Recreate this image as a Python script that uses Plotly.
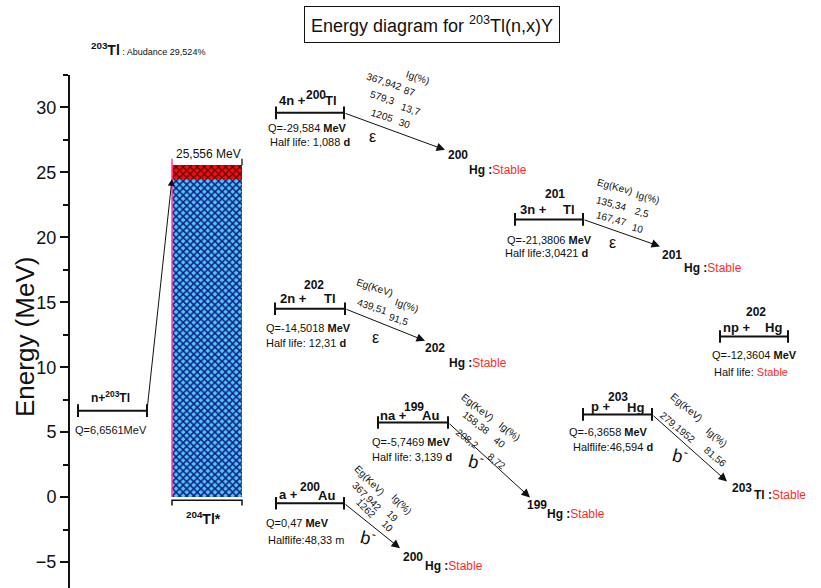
import plotly.graph_objects as go

# ---------------------------------------------------------------- data ----
target_mass = "203"
target_symbol = "Tl"
abundance = "29,524%"
capture_q = 6.6561            # n + 203Tl  (MeV)
compound_max = 25.556         # top of the 204Tl* excitation band (MeV)
compound_band_low = 24.5      # lower edge of the highlighted band (MeV)

ejectiles     = ["4n", "3n", "2n", "np", "na", "p", "a"]
residual_mass = ["200", "201", "202", "202", "199", "203", "200"]
residual_sym  = ["Tl", "Tl", "Tl", "Hg", "Au", "Hg", "Au"]
q_values      = [-29.584, -21.3806, -14.5018, -12.3604, -5.7469, -6.3658, 0.47]
half_lives    = ["Half life: 1,088 <b>d</b>", "Half life:3,0421 <b>d</b>",
                 "Half life: 12,31 <b>d</b>", "Half life: <span style='color:#ff2a2a'>Stable</span>",
                 "Half life: 3,139 <b>d</b>", "Halflife:46,594 <b>d</b>", "Halflife:48,33 m"]
decay_modes   = ["ε", "ε", "ε", "", "b<sup>-</sup>", "b<sup>-</sup>", "b<sup>-</sup>"]
daughter_mass = ["200", "201", "202", "", "199", "203", "200"]
daughter_sym  = ["Hg", "Hg", "Hg", "", "Hg", "Tl", "Hg"]
gamma_head    = ["Eg(KeV)", "Eg(Kev)", "Eg(KeV)", "", "Eg(KeV)", "Eg(KeV)", "Eg(KeV)"]
gamma_energy  = [[367.942, 579.3, 1205], [135.34, 167.47], [439.51], [],
                 [158.38, 208.2], [279.1952], [367.942, 1262]]
gamma_int     = [[87, 13.7, 30], [2.5, 10], [91.5], [], [40, 8.72], [81.56], [19, 10]]

# -------------------------------------------------------------- layout ----
W, H = 821, 588
X_LEFT, PLOT_TOP = 70, 75
Y_MIN, Y_MAX = -7.0, 32.5
PX_PER_MEV = (H - PLOT_TOP) / (Y_MAX - Y_MIN)

NARROW = "Liberation Sans Narrow, Arial Narrow, Liberation Sans, Arial, sans-serif"
REGULAR = "Liberation Sans, Arial, sans-serif"
RED = "#ff2a2a"
INK = "#111111"


def ey(py):
    """screen row -> energy"""
    return Y_MAX - (py - PLOT_TOP) / PX_PER_MEV


def pxp(px):
    return (px - X_LEFT) / (W - X_LEFT)


def pyp(py):
    return (H - py) / (H - PLOT_TOP)


def comma(v):
    return str(v).replace(".", ",")


bar_span = [(276, 344), (515, 583), (275, 345), (720, 788), (378, 448), (583, 652), (276, 344)]
label_pos = [
    [(292, 100), (316, 95), (331, 100)],
    [(533, 209), (555, 194), (569, 209)],
    [(293, 298), (314, 285), (330, 298)],
    [(736, 327), (756, 312), (773, 327)],
    [(393, 415), (414, 407), (430, 415)],
    [(601, 406), (618, 397), (635, 407)],
    [(288, 494), (310, 487), (326, 495)],
]
q_pos = [(307, 128), (549, 240), (308, 328), (754, 355), (411, 442), (608, 432), (297, 523)]
hl_pos = [(310, 142), (546, 253), (306, 343), (751, 372), (412, 457), (613, 447), (306, 540)]
mode_pos = [(372, 136), (612, 242), (375, 337), None, (476, 461), (680, 455), (368, 537)]
arrow_step = [(101, 37), (77, 27), (80, 32), None, (82, 75), (75, 67), (56, 45)]
daughter_pos = [((458, 155), (467, 170)), ((672, 255), (682, 268)), ((435, 348), (447, 363)), None,
                ((537, 505), (545, 514)), ((742, 488), (752, 495)), ((413, 557), (423, 566))]
table_angle = [18, 15, 18, 0, 38, 40, 45]
eg_pos = [[(385, 66), (384, 81), (382, 97), (382, 115)],
          [(615, 186), (611, 203), (611, 218)],
          [(375, 287), (372, 306)],
          [],
          [(478, 407), (476, 422), (467, 438)],
          [(687, 407), (678, 427)],
          [(370, 480), (367, 496), (366, 508)]]
ig_pos = [[(418, 77), (410, 91), (411, 109), (405, 123)],
          [(648, 197), (642, 212), (638, 228)],
          [(407, 305), (399, 319)],
          [],
          [(510, 431), (500, 442), (497, 461)],
          [(717, 437), (715, 456)],
          [(402, 504), (393, 516), (388, 526)]]

fig = go.Figure()
ann = []


def text(px, py, s, size=11, family=NARROW, color=INK, angle=0, xanchor="center"):
    ann.append(dict(x=px, y=ey(py), xref="x", yref="y", text=s, showarrow=False,
                    xanchor=xanchor, yanchor="middle", textangle=angle,
                    font=dict(size=size, family=family, color=color)))


def level(x0, x1, e):
    fig.add_trace(go.Scatter(x=[x0, x1], y=[e, e], mode="lines+markers",
                             line=dict(color=INK, width=2),
                             marker=dict(symbol="line-ns", size=9,
                                         line=dict(width=2, color=INK)),
                             hoverinfo="skip"))


# ---- compound nucleus column -----------------------------------------
cx, cw = 207, 70
fig.add_trace(go.Bar(x=[cx], y=[compound_band_low], base=[0], width=[cw],
                     marker=dict(color="#4fc6f2", line=dict(width=0),
                                 pattern=dict(shape="x", fillmode="replace", bgcolor="#4fc6f2",
                                              fgcolor="#0f1c86", size=5, solidity=0.5)),
                     hoverinfo="skip"))
fig.add_trace(go.Bar(x=[cx], y=[compound_max - compound_band_low], base=[compound_band_low],
                     width=[cw],
                     marker=dict(color="#ee1111", line=dict(width=0),
                                 pattern=dict(shape="x", fillmode="replace", bgcolor="#f01010",
                                              fgcolor="#5a0000", size=5, solidity=0.4)),
                     hoverinfo="skip"))
fig.add_trace(go.Scatter(x=[cx - cw / 2] * 2, y=[0, compound_max + 0.5], mode="lines",
                         line=dict(color="#ff3fa0", width=1.5), hoverinfo="skip"))
fig.add_trace(go.Scatter(x=[cx + cw / 2] * 2, y=[compound_max, compound_max + 0.5], mode="lines",
                         line=dict(color="#333333", width=1.5), hoverinfo="skip"))
fig.add_trace(go.Scatter(x=[cx - cw / 2, cx - cw / 2, cx + cw / 2, cx + cw / 2],
                         y=[-0.65, -0.25, -0.25, -0.65], mode="lines",
                         line=dict(color=INK, width=1.5), hoverinfo="skip"))
text(208, 154, f"{comma(compound_max)} MeV", size=12)
text(203, 518, "<b><sup>204</sup>Tl*</b>", size=14)

# ---- entrance channel -------------------------------------------------
level(78, 147, capture_q)
text(110, 397, "<b>n+<sup>203</sup>Tl</b>", size=12)
text(111, 430, f"Q={comma(capture_q)}MeV", size=11)
ann.append(dict(x=cx - cw / 2, y=compound_band_low, ax=147, ay=capture_q,
                xref="x", yref="y", axref="x", ayref="y", showarrow=True,
                arrowhead=2, arrowsize=1.4, arrowwidth=1, arrowcolor=INK, text=""))

# ---- exit channels ----------------------------------------------------
for i, ej in enumerate(ejectiles):
    e = -q_values[i]
    x0, x1 = bar_span[i]
    level(x0, x1, e)
    (ejx, ejy), (mx, my), (sx, sy) = label_pos[i]
    text(ejx, ejy, f"<b>{ej} +</b>", size=13)
    text(mx, my, f"<b>{residual_mass[i]}</b>", size=12)
    text(sx, sy, f"<b>{residual_sym[i]}</b>", size=13)
    text(*q_pos[i], f"Q={comma(q_values[i])} <b>MeV</b>", size=11)
    text(*hl_pos[i], half_lives[i], size=11)

    if not decay_modes[i]:
        continue
    dx, dy = arrow_step[i]
    ann.append(dict(x=x1 + dx, y=e - dy / PX_PER_MEV, ax=x1, ay=e,
                    xref="x", yref="y", axref="x", ayref="y", showarrow=True,
                    arrowhead=2, arrowsize=1.7, arrowwidth=1, arrowcolor=INK, text=""))
    is_eps = decay_modes[i] == "ε"
    text(*mode_pos[i], decay_modes[i], size=16 if is_eps else 18,
         family=REGULAR, angle=0 if is_eps else 15)

    (dmx, dmy), (dsx, dsy) = daughter_pos[i]
    text(dmx, dmy, f"<b>{daughter_mass[i]}</b>", size=12)
    text(dsx, dsy, f"<b>{daughter_sym[i]} :</b><span style='color:{RED}'>Stable</span>",
         size=12, xanchor="left")

    ang = table_angle[i]
    eg_col = [gamma_head[i]] + [comma(v) for v in gamma_energy[i]]
    ig_col = ["Ig(%)"] + [comma(v) for v in gamma_int[i]]
    for s, p in zip(eg_col, eg_pos[i]):
        text(*p, s, size=10, angle=ang)
    for s, p in zip(ig_col, ig_pos[i]):
        text(*p, s, size=10, angle=ang)

# ---- title, abundance, axis title --------------------------------------
ann.append(dict(x=pxp(432), y=pyp(24), xref="paper", yref="paper", showarrow=False,
                text=f"Energy diagram for <sup>{target_mass}</sup>{target_symbol}(n,x)Y",
                font=dict(size=18, family=NARROW, color=INK),
                bordercolor=INK, borderwidth=1, borderpad=6, bgcolor="white",
                xanchor="center", yanchor="middle"))
ann.append(dict(x=pxp(89), y=pyp(49), xref="paper", yref="paper", showarrow=False,
                text=f"<b><sup>{target_mass}</sup>{target_symbol}</b>"
                     f"<span style='font-size:9px'> : Abudance {abundance}</span>",
                font=dict(size=14, family=NARROW, color=INK),
                xanchor="left", yanchor="middle"))
ann.append(dict(x=pxp(25), y=pyp(337), xref="paper", yref="paper", showarrow=False,
                text="Energy (MeV)", textangle=-90,
                font=dict(size=26, family=REGULAR, color=INK),
                xanchor="center", yanchor="middle"))

fig.update_layout(
    width=W, height=H,
    margin=dict(l=X_LEFT, r=0, t=PLOT_TOP, b=0),
    paper_bgcolor="white", plot_bgcolor="white",
    showlegend=False, barmode="overlay", bargap=0,
    annotations=ann,
)
fig.update_xaxes(range=[X_LEFT, W], visible=False, fixedrange=True)
fig.update_yaxes(range=[Y_MIN, Y_MAX], showgrid=False, zeroline=False,
                 showline=True, linecolor=INK, linewidth=2,
                 ticks="outside", ticklen=8, tickwidth=2, tickcolor=INK,
                 tick0=0, dtick=5,
                 tickfont=dict(size=18, family=NARROW, color=INK),
                 minor=dict(ticks="outside", ticklen=5, tickwidth=1.5, tickcolor=INK,
                            tick0=0, dtick=2.5),
                 fixedrange=True)

fig.write_html("out.html")
